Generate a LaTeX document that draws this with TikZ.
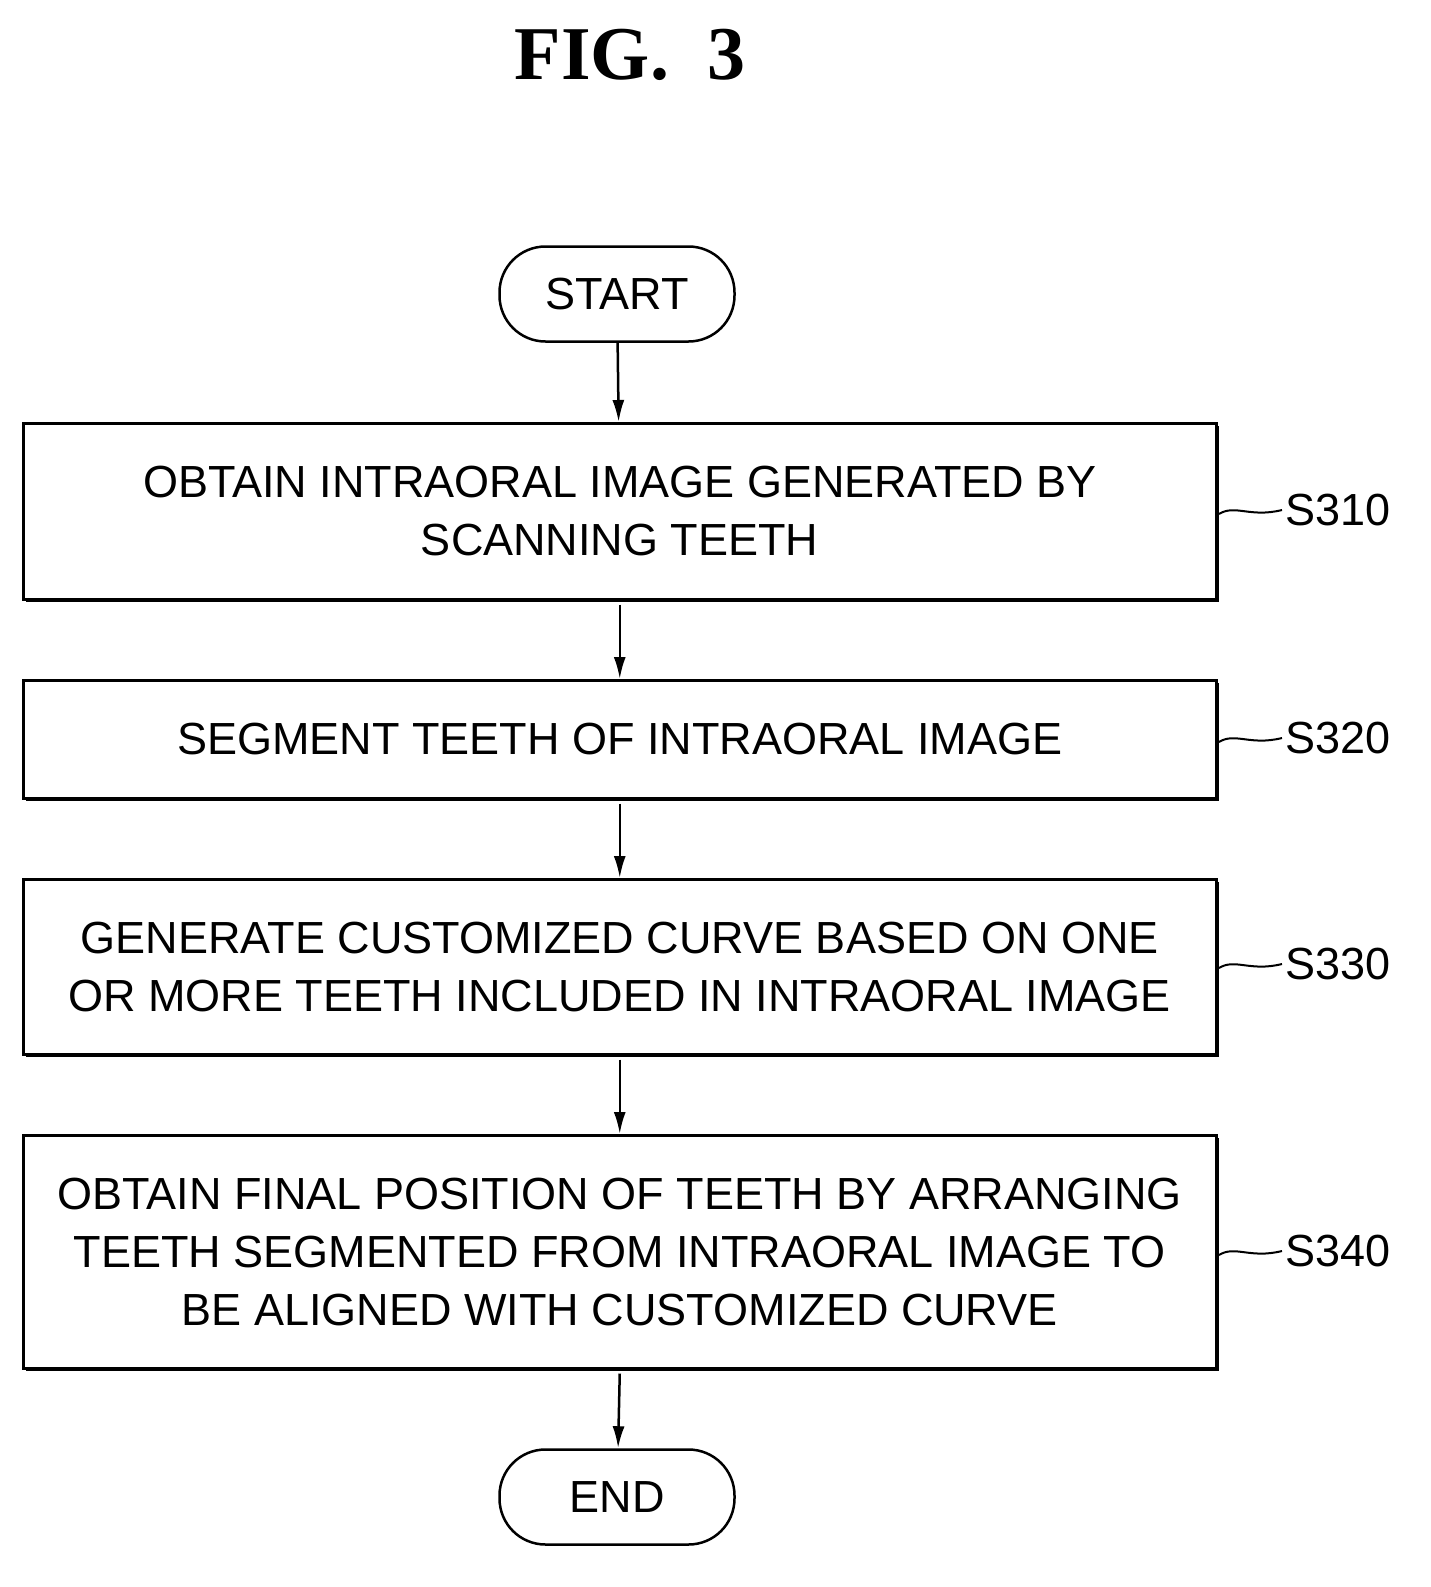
\documentclass[tikz,border=0pt]{standalone}
\usetikzlibrary{arrows.meta}
\usepackage{fontspec}
\setmainfont{Liberation Sans}
\newfontfamily\titlefont{Liberation Serif}
\begin{document}
\begin{tikzpicture}[x=1pt,y=-1pt,
  box/.style={draw,line width=2.5pt,align=center,inner sep=0pt,font=\fontsize{45}{58}\selectfont},
  term/.style={draw,line width=2.5pt,rounded corners=46pt,minimum width=235pt,minimum height=95pt,font=\fontsize{45}{50}\selectfont},
  arr/.style={line width=2.5pt,-{Latex[length=22pt,width=12pt]}},
  lab/.style={font=\fontsize{45}{50}\selectfont,anchor=west}]
\useasboundingbox (0,0) rectangle (1431,1587);
\node[font=\titlefont\bfseries\fontsize{76}{80}\selectfont] (t) at (630,55) {FIG.\ \ 3};
\node[term] (s) at (617,294) {START};
\node[term] (e) at (617,1497) {END};
\newcommand\stepbox[5]{%
 \fill (#1+4,#2+4) rectangle (1219,#3+4);
 \node[box,fill=white,minimum width=1193pt,minimum height={#3-#2},anchor=north west] (#4) at (#1,#2) {#5};}
\stepbox{22}{422}{598}{b1}{OBTAIN INTRAORAL IMAGE GENERATED BY\\SCANNING TEETH}
\stepbox{22}{679}{797}{b2}{SEGMENT TEETH OF INTRAORAL IMAGE}
\stepbox{22}{878}{1053}{b3}{GENERATE CUSTOMIZED CURVE BASED ON ONE\\OR MORE TEETH INCLUDED IN INTRAORAL IMAGE}
\stepbox{22}{1134}{1367}{b4}{OBTAIN FINAL POSITION OF TEETH BY ARRANGING\\TEETH SEGMENTED FROM INTRAORAL IMAGE TO\\BE ALIGNED WITH CUSTOMIZED CURVE}
\draw[arr] (s) -- (b1);
\draw[arr] (b1.south) ++(0,4) -- (b2);
\draw[arr] (b2.south) ++(0,4) -- (b3);
\draw[arr] (b3.south) ++(0,4) -- (b4);
\draw[arr] (b4.south) ++(0,4) -- (e);
\foreach \y/\t in {510/S310,738/S320,964/S330,1251/S340}{
 \node[lab] (l\t) at (1282,\y) {\t};
 \draw[line width=2pt] (1219,\y+4) .. controls (1235,\y-6) and (1250,\y+8) .. (l\t.west);
}
\end{tikzpicture}
\end{document}
